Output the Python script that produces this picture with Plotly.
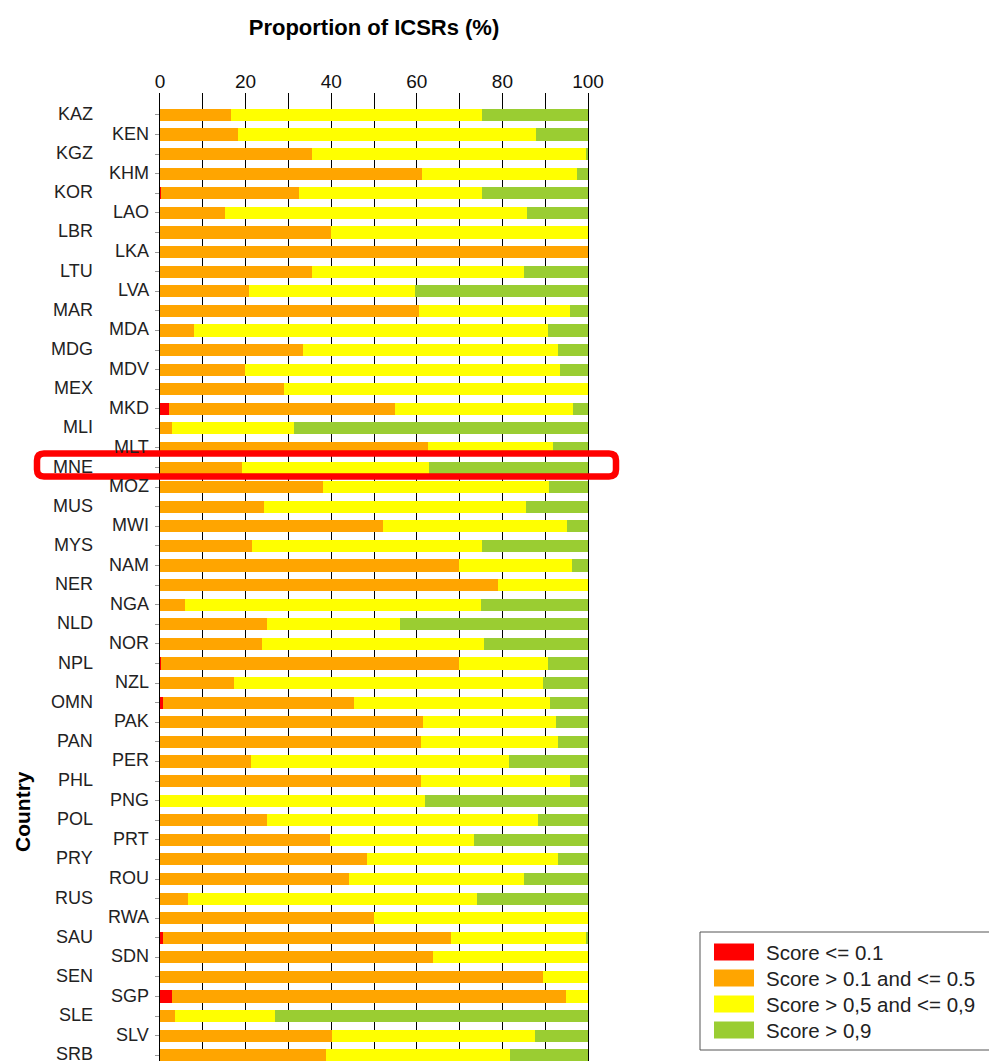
import plotly.graph_objects as go

countries = ["KAZ", "KEN", "KGZ", "KHM", "KOR", "LAO", "LBR", "LKA", "LTU", "LVA",
             "MAR", "MDA", "MDG", "MDV", "MEX", "MKD", "MLI", "MLT", "MNE", "MOZ",
             "MUS", "MWI", "MYS", "NAM", "NER", "NGA", "NLD", "NOR", "NPL", "NZL",
             "OMN", "PAK", "PAN", "PER", "PHL", "PNG", "POL", "PRT", "PRY", "ROU",
             "RUS", "RWA", "SAU", "SDN", "SEN", "SGP", "SLE", "SLV", "SRB"]

score_le_01 = [0, 0, 0, 0, 0.3, 0, 0, 0, 0, 0,
               0, 0, 0, 0, 0, 2.1, 0, 0, 0, 0,
               0, 0, 0, 0, 0, 0, 0, 0, 0.3, 0,
               0.7, 0, 0, 0, 0, 0, 0, 0, 0, 0,
               0, 0, 0.7, 0, 0, 2.8, 0, 0, 0]
score_01_05 = [16.7, 18.2, 35.4, 61.2, 32.1, 15.2, 39.9, 100, 35.6, 20.8,
               60.5, 8.0, 33.4, 19.8, 28.9, 52.7, 2.9, 62.6, 19.2, 38.1,
               24.2, 52.0, 21.4, 69.8, 78.9, 5.8, 24.9, 23.8, 69.5, 17.3,
               44.7, 61.4, 60.9, 21.2, 60.9, 0, 24.9, 39.8, 48.4, 44.1,
               6.6, 50.0, 67.2, 63.8, 89.6, 92.0, 3.5, 40.3, 38.8]
score_05_09 = [58.5, 69.6, 64.2, 36.2, 42.8, 70.5, 60.1, 0, 49.4, 38.7,
               35.4, 82.6, 59.6, 73.7, 71.1, 41.7, 28.5, 29.2, 43.7, 52.8,
               61.4, 43.1, 53.8, 26.5, 21.1, 69.2, 31.2, 51.8, 20.8, 72.1,
               45.7, 31.1, 32.2, 60.3, 34.8, 62.0, 63.4, 33.5, 44.6, 41.0,
               67.4, 50.0, 31.7, 36.2, 10.4, 5.2, 23.3, 47.2, 42.9]
score_gt_09 = [24.8, 12.2, 0.4, 2.6, 24.8, 14.3, 0, 0, 15.0, 40.5,
               4.1, 9.4, 7.0, 6.5, 0, 3.5, 68.6, 8.2, 37.1, 9.1,
               14.4, 4.9, 24.8, 3.7, 0, 25.0, 43.9, 24.4, 9.4, 10.6,
               8.9, 7.5, 6.9, 18.5, 4.3, 38.0, 11.7, 26.7, 7.0, 14.9,
               26.0, 0, 0.4, 0, 0, 0, 73.2, 12.5, 18.3]

series_names = ["Score &lt;= 0.1", "Score &gt; 0.1 and &lt;= 0.5",
                "Score &gt; 0,5 and &lt;= 0,9", "Score &gt; 0,9"]
series_colors = ["#FF0000", "#FFA500", "#FFFF00", "#9ACD32"]
x_ticks = [0, 10, 20, 30, 40, 50, 60, 70, 80, 90, 100]
x_tick_text = ["0", "", "20", "", "40", "", "60", "", "80", "", "100"]

# The page body adds an 8px margin; the figure is sized to fill the rest of the window.
OFF = 8
WIN_W, WIN_H = 997, 1061
W, H = WIN_W - OFF, WIN_H - OFF
PLOT_L, PLOT_R, PLOT_T, PLOT_B = 160, 588, 93, 1061   # absolute window pixels
ML, MR, MT, MB = PLOT_L - OFF, WIN_W - PLOT_R, PLOT_T - OFF, WIN_H - PLOT_B
PW, PH = PLOT_R - PLOT_L, PLOT_B - PLOT_T

def px2x(px):
    return (px - PLOT_L) / PW

def py2y(py):
    return (PLOT_B - py) / PH

fig = go.Figure()
for name, col, vals in zip(series_names, series_colors,
                           [score_le_01, score_01_05, score_05_09, score_gt_09]):
    fig.add_trace(go.Bar(y=countries, x=vals, name=name, orientation="h",
                         marker=dict(color=col, line=dict(width=0)),
                         hoverinfo="x+y", showlegend=False))

FONT = "Arial, Liberation Sans, sans-serif"
annotations = []
for i, c in enumerate(countries):
    annotations.append(dict(
        text=c, xref="paper", yref="y", x=px2x(95 if i % 2 == 0 else 151), y=c,
        xanchor="right", yanchor="middle", showarrow=False, yshift=1,
        font=dict(family=FONT, size=18, color="#222222")))
annotations.append(dict(
    text="<b>Country</b>", xref="paper", yref="paper", x=px2x(22), y=py2y(812),
    textangle=-90, showarrow=False, xanchor="center", yanchor="middle",
    font=dict(family=FONT, size=21, color="#000000")))

shapes = []
# legend (box, colour swatches and labels)
shapes.append(dict(type="rect", xref="paper", yref="paper",
                   x0=px2x(700), x1=px2x(1010), y0=py2y(1050), y1=py2y(932),
                   line=dict(color="#555555", width=1), fillcolor="white", layer="above"))
for k, (name, col) in enumerate(zip(series_names, series_colors)):
    cy = 952 + 26 * k
    shapes.append(dict(type="rect", xref="paper", yref="paper",
                       x0=px2x(714), x1=px2x(754), y0=py2y(cy + 8.5), y1=py2y(cy - 8.5),
                       line=dict(width=0), fillcolor=col, layer="above"))
    annotations.append(dict(
        text=name, xref="paper", yref="paper", x=px2x(764), y=py2y(cy),
        xanchor="left", yanchor="middle", showarrow=False,
        font=dict(family=FONT, size=20.5, color="#222222")))

# rounded highlight rectangle (pixel geometry converted to paper coords)
L, R, T, B, r = 37, 616, 453.5, 476.5, 7
pts = [("M", (L + r, T)), ("L", (R - r, T)), ("Q", (R, T), (R, T + r)),
       ("L", (R, B - r)), ("Q", (R, B), (R - r, B)), ("L", (L + r, B)),
       ("Q", (L, B), (L, B - r)), ("L", (L, T + r)), ("Q", (L, T), (L + r, T))]
path = ""
for seg in pts:
    cmd = seg[0]
    coords = " ".join(f"{px2x(p[0]):.5f},{py2y(p[1]):.5f}" for p in seg[1:])
    path += f"{cmd}{coords} "
path += "Z"
shapes.append(dict(type="path", path=path, xref="paper", yref="paper",
                   line=dict(color="#FF0000", width=6.5), layer="above"))

fig.update_layout(
    width=W, height=H,
    margin=dict(l=ML, r=MR, t=MT, b=MB, autoexpand=False),
    paper_bgcolor="white", plot_bgcolor="white",
    barmode="stack", bargap=0.38,
    font=dict(family=FONT, color="#000000"),
    title=dict(text="<b>Proportion of ICSRs (%)</b>", x=px2x(374), xref="paper",
               xanchor="center", y=1 - (27 - OFF) / H, yref="container", yanchor="middle",
               font=dict(family=FONT, size=22, color="#000000")),
    xaxis=dict(side="top", range=[0, 100], tickvals=x_ticks, ticktext=x_tick_text,
               showgrid=True, gridcolor="#000000", gridwidth=1, zeroline=False,
               showline=False, ticks="",
               tickfont=dict(family=FONT, size=19, color="#111111"),
               fixedrange=True),
    yaxis=dict(type="category", categoryorder="array", categoryarray=countries,
               range=[48.29, -1.12], showticklabels=False, ticks="outside",
               ticklen=4, tickcolor="#999999", tickwidth=1,
               showline=True, linecolor="#000000", linewidth=1.3, mirror=True,
               showgrid=False, zeroline=False),
    annotations=annotations,
    shapes=shapes,
    showlegend=False,
)

fig.write_html("out.html")
